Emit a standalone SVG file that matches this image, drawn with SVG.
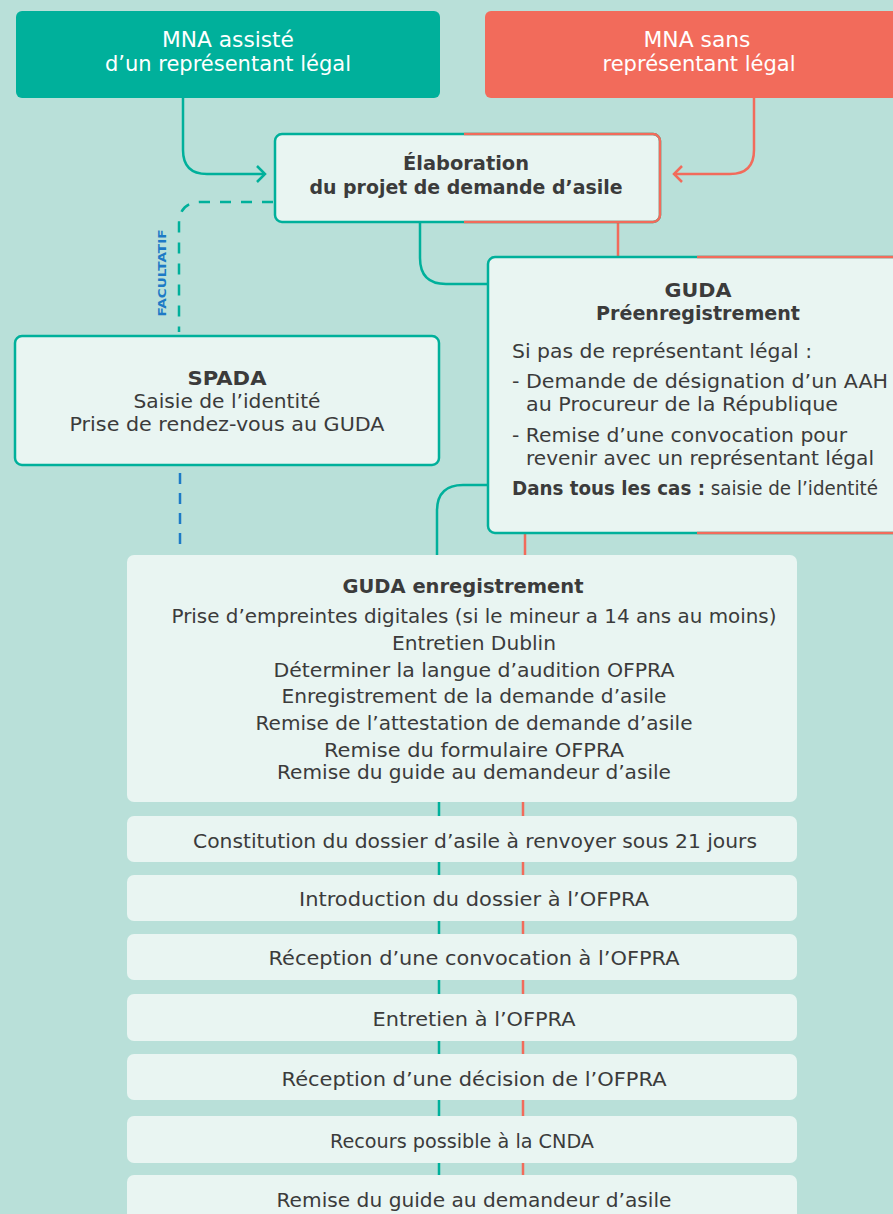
<svg xmlns="http://www.w3.org/2000/svg" width="893" height="1214" viewBox="0 0 893 1214">
<style>
  .t { font-family: "DejaVu Sans", "Liberation Sans", Arial, sans-serif; font-size: 20px; fill: #3b3b3b; }
  .c { text-anchor: middle; }
  .b { font-weight: bold; }
  .w { fill: #ffffff; font-size: 21px; }
  .f { font-family: "DejaVu Sans", "Liberation Sans", Arial, sans-serif; font-size: 11px; font-weight: bold; fill: #1d7ac6; }
  .box { fill: #e9f5f2; }
  .tl { fill: none; stroke: #00b09b; stroke-width: 2.5; }
  .co { fill: none; stroke: #f26b5b; stroke-width: 2.5; }
</style>
<defs>
  <clipPath id="clipE"><rect x="464" y="120" width="220" height="120"/></clipPath>
  <clipPath id="clipG"><rect x="697" y="240" width="220" height="310"/></clipPath>
</defs>
<rect x="0" y="0" width="893" height="1214" fill="#b9e0d9"/>

<g id="connectors">
  <path class="tl" d="M183,98 V150 Q183,174 207,174 H264"/>
  <path class="tl" d="M257,166 L265,174 L257,182"/>
  <path class="co" d="M754,98 V150 Q754,174 730,174 H676"/>
  <path class="co" d="M682,166 L674,174 L682,182"/>
  <path class="tl" d="M273,202 H201 Q179,202 179,224 V332" stroke-dasharray="11 10"/>
  <path fill="none" stroke="#1d7ac6" stroke-width="2.5" d="M180,473 V546" stroke-dasharray="11 9"/>
  <path class="tl" d="M420,222 V258 Q420,284 446,284 H488"/>
  <path class="co" d="M618,222 V257"/>
  <path class="tl" d="M488,485 H463 Q437,485 437,511 V556"/>
  <path class="co" d="M525,534 V556"/>
  <path class="tl" d="M439,800 V1178"/>
  <path class="co" d="M523,800 V1178"/>
  <text class="f" x="166" y="273" text-anchor="middle" transform="rotate(-90 166 273)" textLength="87" lengthAdjust="spacingAndGlyphs">FACULTATIF</text>
</g>

<g id="mna-assiste">
  <rect x="16" y="11" width="424" height="87" rx="6" fill="#00b09b"/>
  <text class="t c w" x="228" y="47" textLength="132" lengthAdjust="spacingAndGlyphs">MNA assisté</text>
  <text class="t c w" x="228" y="71" textLength="246" lengthAdjust="spacingAndGlyphs">d’un représentant légal</text>
</g>

<g id="mna-sans">
  <rect x="485" y="11" width="430" height="87" rx="6" fill="#f26b5b"/>
  <text class="t c w" x="697" y="47" textLength="107" lengthAdjust="spacingAndGlyphs">MNA sans</text>
  <text class="t c w" x="699" y="71" textLength="193" lengthAdjust="spacingAndGlyphs">représentant légal</text>
</g>

<g id="elaboration">
  <rect class="box" x="275" y="134" width="385" height="88" rx="7" stroke="#00b09b" stroke-width="2.5"/>
  <rect x="275" y="134" width="385" height="88" rx="7" fill="none" stroke="#f26b5b" stroke-width="2.5" clip-path="url(#clipE)"/>
  <text class="t c b" x="466" y="170" textLength="126" lengthAdjust="spacingAndGlyphs">Élaboration</text>
  <text class="t c b" x="466" y="194" textLength="313" lengthAdjust="spacingAndGlyphs">du projet de demande d’asile</text>
</g>

<g id="spada">
  <rect class="box" x="15" y="336" width="424" height="129" rx="7" stroke="#00b09b" stroke-width="2.5"/>
  <text class="t c b" x="227" y="385" textLength="79" lengthAdjust="spacingAndGlyphs">SPADA</text>
  <text class="t c" x="227" y="408" textLength="187" lengthAdjust="spacingAndGlyphs">Saisie de l’identité</text>
  <text class="t c" x="227" y="431" textLength="315" lengthAdjust="spacingAndGlyphs">Prise de rendez-vous au GUDA</text>
</g>

<g id="guda-preenregistrement">
  <rect class="box" x="488" y="257" width="425" height="276" rx="7" stroke="#00b09b" stroke-width="2.5"/>
  <rect x="488" y="257" width="425" height="276" rx="7" fill="none" stroke="#f26b5b" stroke-width="2.5" clip-path="url(#clipG)"/>
  <text class="t c b" x="698" y="297" textLength="67" lengthAdjust="spacingAndGlyphs">GUDA</text>
  <text class="t c b" x="698" y="320" textLength="204" lengthAdjust="spacingAndGlyphs">Préenregistrement</text>
  <text class="t" x="512" y="358" textLength="300" lengthAdjust="spacingAndGlyphs">Si pas de représentant légal :</text>
  <text class="t" x="512" y="388" textLength="376" lengthAdjust="spacingAndGlyphs">- Demande de désignation d’un AAH</text>
  <text class="t" x="526" y="411" textLength="312" lengthAdjust="spacingAndGlyphs">au Procureur de la République</text>
  <text class="t" x="512" y="442" textLength="335" lengthAdjust="spacingAndGlyphs">- Remise d’une convocation pour</text>
  <text class="t" x="526" y="465" textLength="348" lengthAdjust="spacingAndGlyphs">revenir avec un représentant légal</text>
  <text class="t" x="512" y="495" textLength="366" lengthAdjust="spacingAndGlyphs"><tspan font-weight="bold">Dans tous les cas :</tspan> saisie de l’identité</text>
</g>

<g id="guda-enregistrement">
  <rect class="box" x="127" y="555" width="670" height="247" rx="7"/>
  <text class="t c b" x="463" y="593" textLength="241" lengthAdjust="spacingAndGlyphs">GUDA enregistrement</text>
  <text class="t c" x="474" y="623" textLength="605" lengthAdjust="spacingAndGlyphs">Prise d’empreintes digitales (si le mineur a 14 ans au moins)</text>
  <text class="t c" x="474" y="650" textLength="164" lengthAdjust="spacingAndGlyphs">Entretien Dublin</text>
  <text class="t c" x="474" y="677" textLength="401" lengthAdjust="spacingAndGlyphs">Déterminer la langue d’audition OFPRA</text>
  <text class="t c" x="474" y="703" textLength="385" lengthAdjust="spacingAndGlyphs">Enregistrement de la demande d’asile</text>
  <text class="t c" x="474" y="730" textLength="437" lengthAdjust="spacingAndGlyphs">Remise de l’attestation de demande d’asile</text>
  <text class="t c" x="474" y="757" textLength="300" lengthAdjust="spacingAndGlyphs">Remise du formulaire OFPRA</text>
  <text class="t c" x="474" y="779" textLength="394" lengthAdjust="spacingAndGlyphs">Remise du guide au demandeur d’asile</text>
</g>

<g id="constitution">
  <rect class="box" x="127" y="816" width="670" height="46" rx="7"/>
  <text class="t c" x="475" y="848" textLength="564" lengthAdjust="spacingAndGlyphs">Constitution du dossier d’asile à renvoyer sous 21 jours</text>
</g>
<g id="introduction">
  <rect class="box" x="127" y="875" width="670" height="46" rx="7"/>
  <text class="t c" x="474" y="906" textLength="350" lengthAdjust="spacingAndGlyphs">Introduction du dossier à l’OFPRA</text>
</g>
<g id="reception-convocation">
  <rect class="box" x="127" y="934" width="670" height="46" rx="7"/>
  <text class="t c" x="474" y="965" textLength="411" lengthAdjust="spacingAndGlyphs">Réception d’une convocation à l’OFPRA</text>
</g>
<g id="entretien">
  <rect class="box" x="127" y="994" width="670" height="47" rx="7"/>
  <text class="t c" x="474" y="1026" textLength="203" lengthAdjust="spacingAndGlyphs">Entretien à l’OFPRA</text>
</g>
<g id="reception-decision">
  <rect class="box" x="127" y="1054" width="670" height="46" rx="7"/>
  <text class="t c" x="474" y="1086" textLength="385" lengthAdjust="spacingAndGlyphs">Réception d’une décision de l’OFPRA</text>
</g>
<g id="recours">
  <rect class="box" x="127" y="1116" width="670" height="47" rx="7"/>
  <text class="t c" x="462" y="1148" textLength="264" lengthAdjust="spacingAndGlyphs">Recours possible à la CNDA</text>
</g>
<g id="remise-guide">
  <rect class="box" x="127" y="1175" width="670" height="60" rx="7"/>
  <text class="t c" x="474" y="1207" textLength="395" lengthAdjust="spacingAndGlyphs">Remise du guide au demandeur d’asile</text>
</g>
</svg>
